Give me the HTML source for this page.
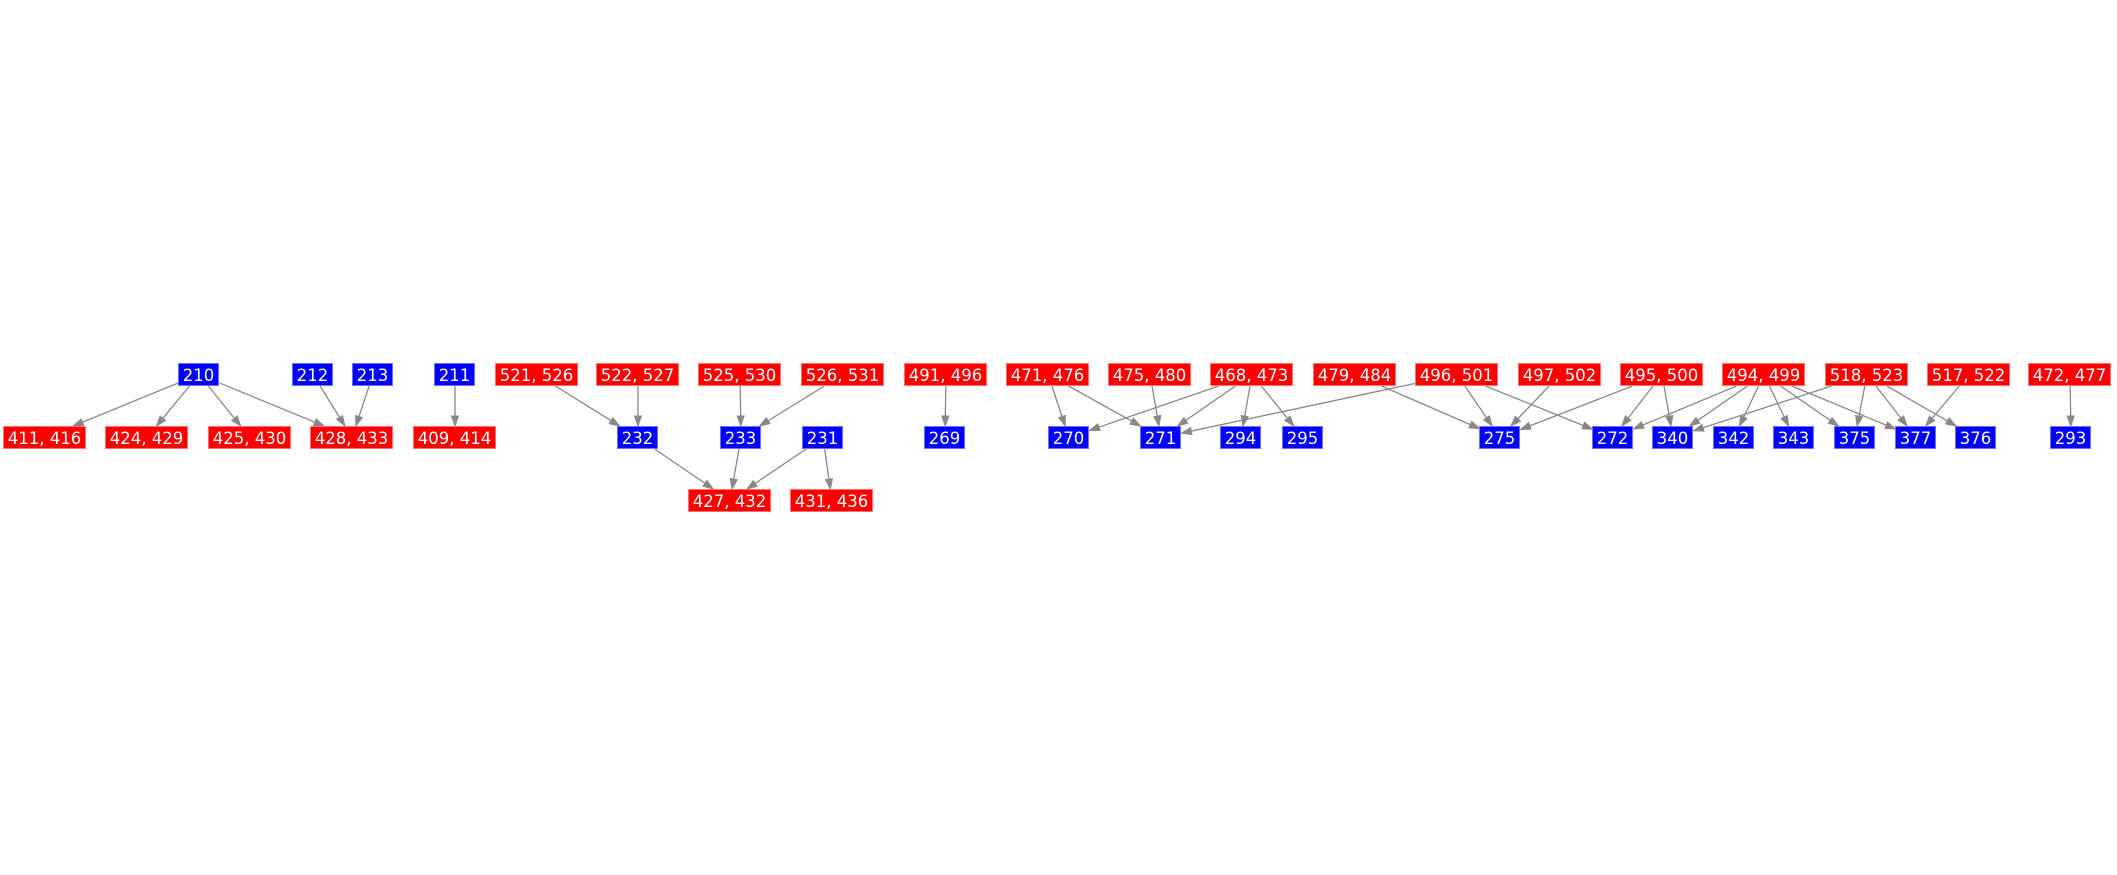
<!DOCTYPE html>
<html><head><meta charset="utf-8"><style>
html,body{margin:0;padding:0;background:#fff;width:2117px;height:875px;overflow:hidden;position:relative}
.n{position:absolute;height:23px;line-height:23px;text-align:center;color:#fff;font-family:"DejaVu Sans","Liberation Sans",sans-serif;font-size:16.5px;box-sizing:border-box}
.r{background:#ff0000;width:83px;border:1px solid #ff7070}
.b{background:#0000ff;width:41px;border:1px solid #7070ff}
svg{position:absolute;left:0;top:0}
</style></head><body>
<svg id="s" width="2117" height="875"></svg>
<div id="nodes"></div>
<script>
var R1=363,R2=426,R3=489;
var N=[
["210",199,R1,"b"],["212",313,R1,"b"],["213",373,R1,"b"],["211",455,R1,"b"],
["521, 526",537,R1,"r"],["522, 527",638,R1,"r"],["525, 530",740,R1,"r"],["526, 531",843,R1,"r"],
["491, 496",946,R1,"r"],["471, 476",1048,R1,"r"],["475, 480",1150,R1,"r"],["468, 473",1252,R1,"r"],
["479, 484",1355,R1,"r"],["496, 501",1457,R1,"r"],["497, 502",1560,R1,"r"],["495, 500",1662,R1,"r"],
["494, 499",1764,R1,"r"],["518, 523",1867,R1,"r"],["517, 522",1969,R1,"r"],["472, 477",2070,R1,"r"],
["411, 416",45,R2,"r"],["424, 429",147,R2,"r"],["425, 430",250,R2,"r"],["428, 433",352,R2,"r"],
["409, 414",455,R2,"r"],["232",638,R2,"b"],["233",741,R2,"b"],["231",823,R2,"b"],["269",945,R2,"b"],
["270",1069,R2,"b"],["271",1161,R2,"b"],["294",1241,R2,"b"],["295",1303,R2,"b"],["275",1500,R2,"b"],
["272",1613,R2,"b"],["340",1673,R2,"b"],["342",1734,R2,"b"],["343",1794,R2,"b"],["375",1855,R2,"b"],
["377",1916,R2,"b"],["376",1976,R2,"b"],["293",2071,R2,"b"],
["427, 432",730,R3,"r"],["431, 436",832,R3,"r"]];
</script>
<div class="n b" style="left:178px;top:363px">210</div>
<div class="n b" style="left:292px;top:363px">212</div>
<div class="n b" style="left:352px;top:363px">213</div>
<div class="n b" style="left:434px;top:363px">211</div>
<div class="n r" style="left:495px;top:363px">521, 526</div>
<div class="n r" style="left:596px;top:363px">522, 527</div>
<div class="n r" style="left:698px;top:363px">525, 530</div>
<div class="n r" style="left:801px;top:363px">526, 531</div>
<div class="n r" style="left:904px;top:363px">491, 496</div>
<div class="n r" style="left:1006px;top:363px">471, 476</div>
<div class="n r" style="left:1108px;top:363px">475, 480</div>
<div class="n r" style="left:1210px;top:363px">468, 473</div>
<div class="n r" style="left:1313px;top:363px">479, 484</div>
<div class="n r" style="left:1415px;top:363px">496, 501</div>
<div class="n r" style="left:1518px;top:363px">497, 502</div>
<div class="n r" style="left:1620px;top:363px">495, 500</div>
<div class="n r" style="left:1722px;top:363px">494, 499</div>
<div class="n r" style="left:1825px;top:363px">518, 523</div>
<div class="n r" style="left:1927px;top:363px">517, 522</div>
<div class="n r" style="left:2028px;top:363px">472, 477</div>
<div class="n r" style="left:3px;top:426px">411, 416</div>
<div class="n r" style="left:105px;top:426px">424, 429</div>
<div class="n r" style="left:208px;top:426px">425, 430</div>
<div class="n r" style="left:310px;top:426px">428, 433</div>
<div class="n r" style="left:413px;top:426px">409, 414</div>
<div class="n b" style="left:617px;top:426px">232</div>
<div class="n b" style="left:720px;top:426px">233</div>
<div class="n b" style="left:802px;top:426px">231</div>
<div class="n b" style="left:924px;top:426px">269</div>
<div class="n b" style="left:1048px;top:426px">270</div>
<div class="n b" style="left:1140px;top:426px">271</div>
<div class="n b" style="left:1220px;top:426px">294</div>
<div class="n b" style="left:1282px;top:426px">295</div>
<div class="n b" style="left:1479px;top:426px">275</div>
<div class="n b" style="left:1592px;top:426px">272</div>
<div class="n b" style="left:1652px;top:426px">340</div>
<div class="n b" style="left:1713px;top:426px">342</div>
<div class="n b" style="left:1773px;top:426px">343</div>
<div class="n b" style="left:1834px;top:426px">375</div>
<div class="n b" style="left:1895px;top:426px">377</div>
<div class="n b" style="left:1955px;top:426px">376</div>
<div class="n b" style="left:2050px;top:426px">293</div>
<div class="n r" style="left:688px;top:489px">427, 432</div>
<div class="n r" style="left:790px;top:489px">431, 436</div>
<script>
var M={};N.forEach(function(a){M[a[0]]={x:a[1],y:a[2],w:a[3]=="r"?83:41};});
var E=[["210","411, 416"],["210","424, 429"],["210","425, 430"],["210","428, 433"],["212","428, 433"],["213","428, 433"],["211","409, 414"],
["521, 526","232"],["522, 527","232"],["525, 530","233"],["526, 531","233"],["232","427, 432"],["233","427, 432"],["231","427, 432"],["231","431, 436"],["491, 496","269"],
["471, 476","270"],["471, 476","271"],["475, 480","271"],["468, 473","270"],["468, 473","271"],["468, 473","294"],["468, 473","295"],["496, 501","271"],["479, 484","275"],
["496, 501","275"],["496, 501","272"],["497, 502","275"],["495, 500","275"],["495, 500","272"],["495, 500","340"],["494, 499","272"],["494, 499","340"],["494, 499","342"],["494, 499","343"],["494, 499","375"],["494, 499","377"],
["518, 523","340"],["518, 523","375"],["518, 523","377"],["518, 523","376"],["517, 522","377"],["472, 477","293"]];
function clip(c,w,dx,dy){var hw=w/2,hh=11.5;var t=Math.min(dx?hw/Math.abs(dx):1e9,dy?hh/Math.abs(dy):1e9);return [c.x+dx*t,c.y+dy*t];}
var h="";
E.forEach(function(e){var a=M[e[0]],b=M[e[1]];var A={x:a.x,y:a.y+11.5},B={x:b.x,y:b.y+11.5};
var dx=B.x-A.x,dy=B.y-A.y;var p=clip(A,a.w,dx,dy),q=clip(B,b.w,-dx,-dy);
var L=Math.hypot(q[0]-p[0],q[1]-p[1]),ux=(q[0]-p[0])/L,uy=(q[1]-p[1])/L;
var bx=q[0]-ux*10,by=q[1]-uy*10;
h+='<line x1="'+p[0]+'" y1="'+p[1]+'" x2="'+bx+'" y2="'+by+'" stroke="#888" stroke-width="1.3"/>';
h+='<polygon points="'+q[0]+','+q[1]+' '+(bx-uy*3.5)+','+(by+ux*3.5)+' '+(bx+uy*3.5)+','+(by-ux*3.5)+'" fill="#888" stroke="#888"/>';});
document.getElementById("s").innerHTML=h;
</script>
</body></html>
